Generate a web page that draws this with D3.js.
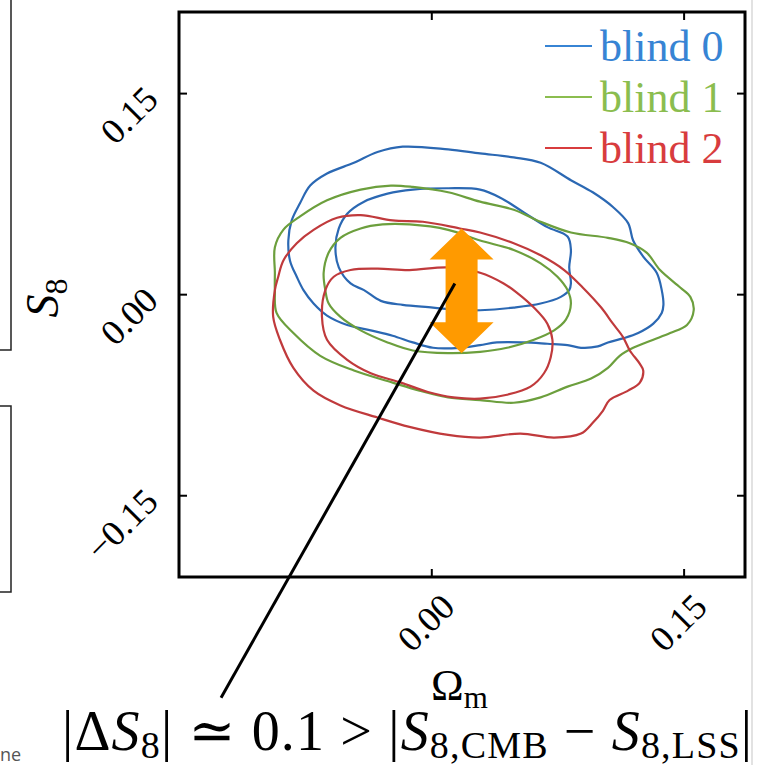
<!DOCTYPE html>
<html>
<head>
<meta charset="utf-8">
<script src="https://cdn.jsdelivr.net/npm/d3@7"></script>
<style>
  body { margin: 0; background: #fff; }
  svg { display: block; }
  text { font-family: "Liberation Serif", "DejaVu Serif", serif; }
</style>
</head>
<body>
<svg id="chart" width="758" height="765"></svg>
<script>
// tick values
let xTicks = [0.00, 0.15];
let yTicks = [-0.15, 0.00, 0.15];

// legend
let blindNames = ["blind 0", "blind 1", "blind 2"];
let lineColors = ["#2b68b3", "#6c9f3d", "#c03a3c"];
let textColors = ["#3784d4", "#8bbd4f", "#d83c3e"];

// contours [Omega_m, S8]
let blind0Outer = [[-0.017,0.110],[0.010,0.108],[0.029,0.105],[0.049,0.102],[0.065,0.098],[0.083,0.085],[0.096,0.076],[0.108,0.065],[0.117,0.053],[0.120,0.040],[0.126,0.028],[0.134,0.016],[0.137,0.003],[0.138,-0.008],[0.137,-0.014],[0.132,-0.022],[0.123,-0.029],[0.114,-0.033],[0.105,-0.036],[0.099,-0.039],[0.089,-0.040],[0.081,-0.038],[0.069,-0.037],[0.055,-0.036],[0.039,-0.036],[0.029,-0.038],[0.017,-0.040],[0.001,-0.040],[-0.011,-0.036],[-0.023,-0.031],[-0.036,-0.027],[-0.050,-0.023],[-0.062,-0.016],[-0.070,-0.007],[-0.076,0.003],[-0.080,0.013],[-0.084,0.025],[-0.085,0.040],[-0.083,0.055],[-0.078,0.068],[-0.072,0.081],[-0.062,0.090],[-0.046,0.098],[-0.032,0.106]];
let blind0Inner = [[-0.011,0.078],[0.010,0.079],[0.029,0.078],[0.041,0.072],[0.055,0.061],[0.069,0.050],[0.081,0.043],[0.083,0.033],[0.082,0.020],[0.083,0.008],[0.082,0.003],[0.077,-0.002],[0.065,-0.007],[0.049,-0.010],[0.029,-0.012],[0.017,-0.012],[0.001,-0.010],[-0.017,-0.008],[-0.030,-0.005],[-0.040,0.003],[-0.048,0.008],[-0.055,0.020],[-0.057,0.035],[-0.055,0.049],[-0.050,0.060],[-0.040,0.069],[-0.026,0.075]];
let blind1Outer = [[-0.024,0.081],[-0.011,0.080],[0.010,0.076],[0.029,0.069],[0.049,0.063],[0.065,0.054],[0.083,0.046],[0.105,0.042],[0.118,0.038],[0.128,0.031],[0.136,0.018],[0.148,0.005],[0.154,-0.002],[0.156,-0.012],[0.152,-0.023],[0.142,-0.029],[0.132,-0.034],[0.120,-0.040],[0.112,-0.046],[0.105,-0.055],[0.095,-0.063],[0.081,-0.069],[0.065,-0.077],[0.049,-0.081],[0.029,-0.079],[0.010,-0.077],[-0.007,-0.072],[-0.023,-0.066],[-0.046,-0.057],[-0.066,-0.046],[-0.082,-0.029],[-0.092,-0.014],[-0.093,0.003],[-0.093,0.016],[-0.093,0.035],[-0.088,0.048],[-0.078,0.058],[-0.062,0.070],[-0.042,0.078]];
let blind1Inner = [[-0.029,0.052],[-0.013,0.052],[0.010,0.048],[0.029,0.040],[0.049,0.033],[0.065,0.023],[0.075,0.013],[0.081,0.003],[0.083,-0.007],[0.080,-0.019],[0.073,-0.027],[0.061,-0.034],[0.045,-0.040],[0.029,-0.043],[0.010,-0.044],[-0.011,-0.042],[-0.026,-0.036],[-0.042,-0.027],[-0.054,-0.017],[-0.061,-0.007],[-0.063,0.003],[-0.064,0.016],[-0.061,0.031],[-0.054,0.042],[-0.042,0.049]];
let blind2Outer = [[-0.056,0.057],[-0.042,0.059],[-0.023,0.055],[-0.005,0.054],[0.017,0.049],[0.029,0.046],[0.049,0.038],[0.065,0.029],[0.079,0.018],[0.090,0.005],[0.101,-0.010],[0.108,-0.022],[0.114,-0.032],[0.118,-0.042],[0.124,-0.052],[0.126,-0.057],[0.124,-0.066],[0.117,-0.072],[0.106,-0.079],[0.102,-0.087],[0.096,-0.096],[0.089,-0.104],[0.073,-0.107],[0.053,-0.104],[0.029,-0.107],[0.010,-0.105],[-0.013,-0.099],[-0.032,-0.092],[-0.054,-0.083],[-0.070,-0.072],[-0.082,-0.055],[-0.090,-0.034],[-0.094,-0.017],[-0.093,0.003],[-0.091,0.013],[-0.088,0.025],[-0.080,0.038],[-0.070,0.048]];
let blind2Inner = [[-0.048,0.018],[-0.032,0.019],[-0.013,0.018],[0.010,0.020],[0.029,0.016],[0.043,0.008],[0.051,0.001],[0.061,-0.010],[0.069,-0.022],[0.072,-0.034],[0.071,-0.047],[0.067,-0.059],[0.059,-0.069],[0.045,-0.075],[0.029,-0.078],[0.013,-0.077],[-0.002,-0.073],[-0.018,-0.066],[-0.036,-0.059],[-0.050,-0.049],[-0.062,-0.034],[-0.065,-0.017],[-0.063,0.003],[-0.058,0.013]];

// shift arrow (Omega_m, S8 low, S8 high) and pointer line ends
let arrowOm = 0.018;
let arrowS8 = [-0.044, 0.049];
let pointer = [[0.014, 0.008], [-0.125, -0.301]];

let chart = d3.select("#chart");

// scales
let x = d3.scaleLinear()
    .domain([-0.15, 0.1865])
    .range([179, 745]);
let y = d3.scaleLinear()
    .domain([-0.211, 0.2105])
    .range([577, 12]);

// bits of the neighbouring panels on the left
chart.append("path")
    .attr("d", "M11,0 V350 H0 M0,406 H11 V592 H0")
    .attr("fill", "none")
    .attr("stroke", "#222")
    .attr("stroke-width", 1.5);
chart.append("text")
    .text("ne")
    .attr("x", 0)
    .attr("y", 761)
    .style("font-family", "'Open Sans', sans-serif")
    .style("font-size", "18px")
    .style("fill", "#555");

// light border at right edge
chart.append("line")
    .attr("x1", 752).attr("x2", 752)
    .attr("y1", 0).attr("y2", 765)
    .attr("stroke", "#d8d8d8")
    .attr("stroke-width", 1.5);

// contours
let contour = d3.line()
    .x(function(d) { return x(d[0]); })
    .y(function(d) { return y(d[1]); })
    .curve(d3.curveCatmullRomClosed.alpha(0.5));

let contours = [
    { data: blind0Outer, c: 0 }, { data: blind0Inner, c: 0 },
    { data: blind1Outer, c: 1 }, { data: blind1Inner, c: 1 },
    { data: blind2Outer, c: 2 }, { data: blind2Inner, c: 2 }
];
chart.selectAll("path.contour")
    .data(contours)
    .enter()
    .append("path")
    .attr("class", "contour")
    .attr("fill", "none")
    .attr("stroke", function(d) { return lineColors[d.c]; })
    .attr("stroke-width", 2.2)
    .attr("d", function(d) { return contour(d.data); });

// orange double arrow
let ax = x(arrowOm), yTop = y(arrowS8[1]), yBot = y(arrowS8[0]);
let headLen = 31, headHalf = 32, shaftHalf = 16;
chart.append("path")
    .attr("d", "M" + ax + "," + yTop +
        " L" + (ax + headHalf) + "," + (yTop + headLen) +
        " L" + (ax + shaftHalf) + "," + (yTop + headLen) +
        " L" + (ax + shaftHalf) + "," + (yBot - headLen) +
        " L" + (ax + headHalf) + "," + (yBot - headLen) +
        " L" + ax + "," + yBot +
        " L" + (ax - headHalf) + "," + (yBot - headLen) +
        " L" + (ax - shaftHalf) + "," + (yBot - headLen) +
        " L" + (ax - shaftHalf) + "," + (yTop + headLen) +
        " L" + (ax - headHalf) + "," + (yTop + headLen) + " Z")
    .attr("fill", "#ff9a00");

// pointer line down to the formula
chart.append("line")
    .attr("x1", x(pointer[0][0])).attr("y1", y(pointer[0][1]))
    .attr("x2", x(pointer[1][0])).attr("y2", y(pointer[1][1]))
    .attr("stroke", "#000")
    .attr("stroke-width", 3);

// axes, ticks pointing inward
let fmt = d3.format(".2f");
let yAxisGroup = chart.append("g")
    .attr("transform", "translate(179,0)")
    .call(d3.axisLeft(y).tickValues(yTicks).tickSize(-8).tickFormat(fmt));
yAxisGroup.selectAll("text")
    .attr("x", 0)
    .attr("dy", "0.35em")
    .attr("transform", "translate(-28,-1) rotate(-45)")
    .attr("text-anchor", "end");

let xAxisGroup = chart.append("g")
    .attr("transform", "translate(0,577)")
    .call(d3.axisBottom(x).tickValues(xTicks).tickSize(-8).tickFormat(fmt));
xAxisGroup.selectAll("text")
    .attr("x", 0)
    .attr("y", 0)
    .attr("dy", "0.35em")
    .attr("transform", "translate(16,23) rotate(-45)")
    .attr("text-anchor", "end");

chart.append("g")
    .attr("transform", "translate(0,12)")
    .call(d3.axisTop(x).tickValues(xTicks).tickSize(-8).tickFormat(""));
chart.append("g")
    .attr("transform", "translate(745,0)")
    .call(d3.axisRight(y).tickValues(yTicks).tickSize(-8).tickFormat(""));

chart.selectAll(".domain").remove();
chart.selectAll(".tick line").attr("stroke", "#000").attr("stroke-width", 2);
chart.selectAll(".tick text")
    .style("font-family", "'Liberation Serif', serif")
    .style("font-size", "36px")
    .style("fill", "#000");

// frame
chart.append("rect")
    .attr("x", 179).attr("y", 12)
    .attr("width", 745 - 179).attr("height", 577 - 12)
    .attr("fill", "none")
    .attr("stroke", "#000")
    .attr("stroke-width", 3);

// legend
chart.selectAll("legendlines")
    .data(blindNames)
    .enter()
    .append("line")
    .attr("x1", 545).attr("x2", 592)
    .attr("y1", function(d, i) { return 46 + i * 51; })
    .attr("y2", function(d, i) { return 46 + i * 51; })
    .attr("stroke", function(d, i) { return textColors[i]; })
    .attr("stroke-width", 2);
chart.selectAll("legendlabels")
    .data(blindNames)
    .enter()
    .append("text")
    .attr("x", 600)
    .attr("y", function(d, i) { return 61 + i * 51; })
    .text(function(d) { return d; })
    .style("font-size", "44px")
    .style("fill", function(d, i) { return textColors[i]; });

// axis labels
let yLabel = chart.append("text")
    .attr("transform", "translate(58,298) rotate(-90)")
    .attr("text-anchor", "middle")
    .style("font-size", "46px");
yLabel.append("tspan").text("S").style("font-style", "italic");
yLabel.append("tspan").text("8").attr("dy", 9).style("font-size", "32px");

let xLabel = chart.append("text")
    .attr("x", 431)
    .attr("y", 700)
    .style("font-size", "44px");
xLabel.append("tspan").text("Ω");
xLabel.append("tspan").text("m").attr("dy", 8).style("font-size", "31px");

// formula under the plot
let formula = chart.append("text")
    .attr("x", 62)
    .attr("y", 750)
    .attr("textLength", 690)
    .attr("lengthAdjust", "spacing")
    .style("font-size", "56px");
formula.append("tspan").text("|Δ");
formula.append("tspan").text("S").style("font-style", "italic");
formula.append("tspan").text("8").attr("dy", 8).style("font-size", "38px");
formula.append("tspan").text("| ≃ 0.1 > |").attr("dy", -8);
formula.append("tspan").text("S").style("font-style", "italic");
formula.append("tspan").text("8,CMB").attr("dy", 8).style("font-size", "38px");
formula.append("tspan").text(" − ").attr("dy", -8);
formula.append("tspan").text("S").style("font-style", "italic");
formula.append("tspan").text("8,LSS").attr("dy", 8).style("font-size", "38px");
formula.append("tspan").text("|").attr("dy", -8);
</script>
</body>
</html>
